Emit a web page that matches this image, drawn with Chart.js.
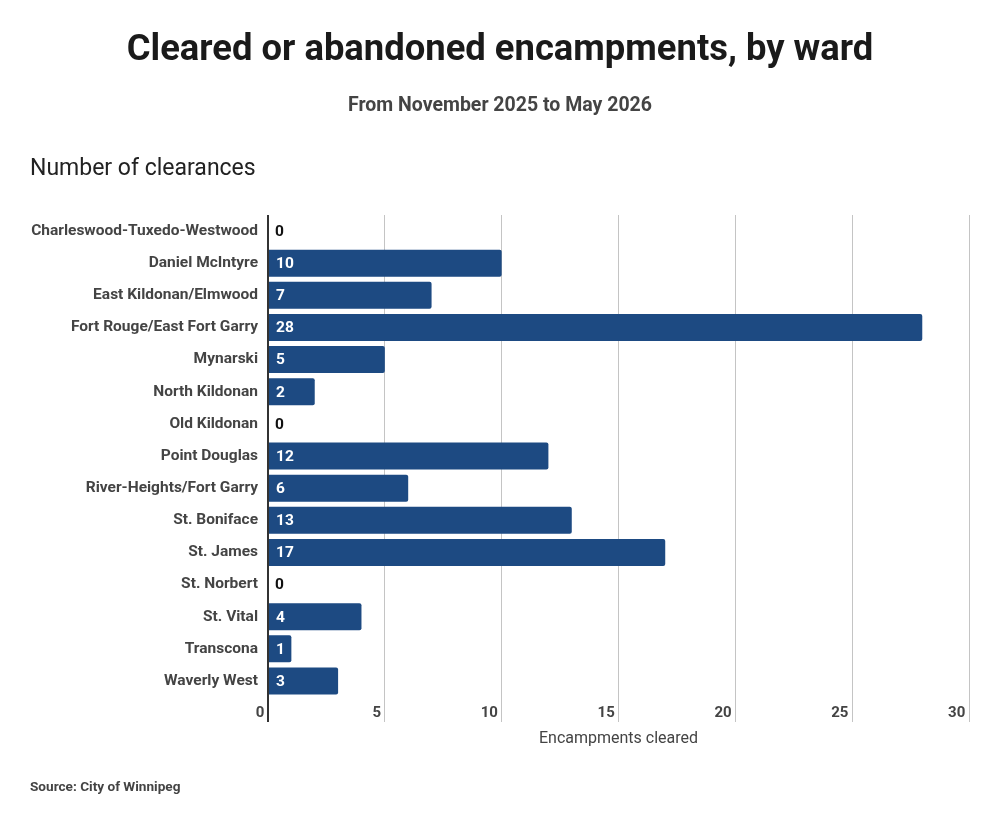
<!DOCTYPE html>
<html>
<head>
<meta charset="utf-8">
<script src="https://cdn.jsdelivr.net/npm/chart.js@4/dist/chart.umd.min.js"></script>
<style>
  html, body { margin: 0; padding: 0; background: #fff; }
  #wrap { position: relative; width: 1000px; height: 824px; font-family: Roboto, "Noto Sans", sans-serif; }
  canvas { position: absolute; left: 0; top: 0; }
  .t { position: absolute; white-space: nowrap; line-height: 1; }
  #title { left: 0; width: 1000px; text-align: center; top: 30px; font-size: 36.4px; font-weight: 700; color: #1a1a1a; }
  #subtitle { left: 0; width: 1000px; text-align: center; top: 95px; font-size: 19.5px; font-weight: 700; color: #444; }
  #ylab { left: 30px; top: 156px; font-size: 23px; font-weight: 400; color: #222; }
  #source { left: 30px; top: 780px; font-size: 13.6px; font-weight: 700; color: #444; }
</style>
</head>
<body>
<div id="wrap">
  <canvas id="c" width="1000" height="824"></canvas>
  <div class="t" id="title">Cleared or abandoned encampments, by ward</div>
  <div class="t" id="subtitle">From November 2025 to May 2026</div>
  <div class="t" id="ylab">Number of clearances</div>
  <div class="t" id="source">Source: City of Winnipeg</div>
</div>
<script>
const wards = [
  "Charleswood-Tuxedo-Westwood",
  "Daniel McIntyre",
  "East Kildonan/Elmwood",
  "Fort Rouge/East Fort Garry",
  "Mynarski",
  "North Kildonan",
  "Old Kildonan",
  "Point Douglas",
  "River-Heights/Fort Garry",
  "St. Boniface",
  "St. James",
  "St. Norbert",
  "St. Vital",
  "Transcona",
  "Waverly West"
];
const cleared = [0, 10, 7, 28, 5, 2, 0, 12, 6, 13, 17, 0, 4, 1, 3];
const xTicks = [0, 5, 10, 15, 20, 25, 30];

const FONT = 'Roboto, "Noto Sans", sans-serif';

const valueLabels = {
  id: 'valueLabels',
  afterDatasetsDraw(chart) {
    const ctx = chart.ctx;
    const meta = chart.getDatasetMeta(0);
    ctx.save();
    ctx.font = '700 15.5px ' + FONT;
    ctx.textAlign = 'left';
    ctx.textBaseline = 'middle';
    meta.data.forEach((el, i) => {
      const v = chart.data.datasets[0].data[i];
      ctx.fillStyle = v > 0 ? '#ffffff' : '#111111';
      ctx.fillText(String(v), el.base + 7, el.y + 1);
    });
    ctx.restore();
  }
};

new Chart(document.getElementById('c'), {
  type: 'bar',
  data: {
    labels: wards,
    datasets: [{
      data: cleared,
      backgroundColor: '#1d4a82',
      borderRadius: 2,
      borderSkipped: 'start',
      barPercentage: 0.84,
      categoryPercentage: 1.0
    }]
  },
  options: {
    indexAxis: 'y',
    responsive: false,
    animation: false,
    devicePixelRatio: 1,
    layout: { padding: { left: 0, right: 31, top: 215, bottom: 75 } },
    plugins: {
      legend: { display: false },
      title: { display: false },
      tooltip: { enabled: false }
    },
    scales: {
      x: {
        type: 'linear',
        position: 'bottom',
        min: 0,
        max: 30,
        afterBuildTicks(scale) { scale.ticks = xTicks.map(v => ({ value: v })); },
        afterFit(scale) { scale.height = 52; },
        border: { display: false },
        grid: {
          drawOnChartArea: true,
          drawTicks: true,
          tickLength: 25,
          color: (c) => c.index === 0 ? '#333333' : '#c4c4c4',
          tickColor: (c) => c.index === 0 ? '#333333' : '#c4c4c4',
          lineWidth: (c) => c.index === 0 ? 2 : 1
        },
        ticks: {
          align: 'end',
          padding: -18,
          color: '#444',
          font: { family: FONT, size: 15, weight: '700' },
          callback: (v) => v + ' '
        },
        title: {
          display: true,
          text: 'Encampments cleared',
          color: '#444',
          padding: 0,
          font: { family: FONT, size: 16, weight: '400' }
        }
      },
      y: {
        type: 'category',
        position: 'left',
        offset: true,
        afterFit(scale) { scale.width = 268; },
        border: { display: false },
        grid: { display: false, drawTicks: false },
        ticks: {
          padding: 10,
          color: '#444',
          font: { family: FONT, size: 15.5, weight: '700' }
        }
      }
    }
  },
  plugins: [valueLabels]
});
</script>
</body>
</html>
